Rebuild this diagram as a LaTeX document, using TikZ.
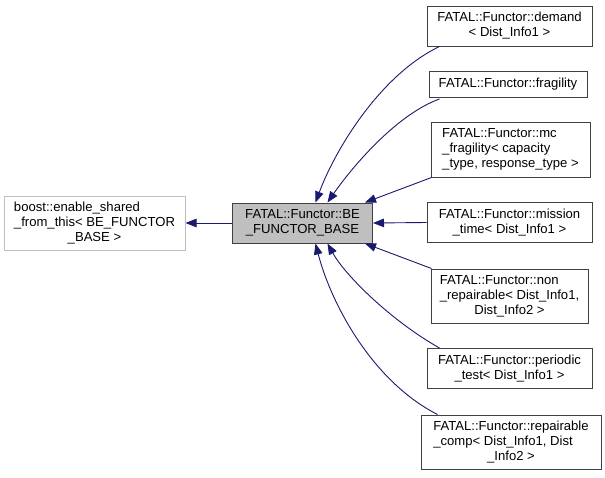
\documentclass[tikz,border=0pt]{standalone}
\usepackage{fontspec}
\setmainfont{Liberation Sans}
\usepackage{tikz}
\usetikzlibrary{arrows.meta}
\definecolor{DoxNavy}{HTML}{191970}
\definecolor{DoxBorder}{HTML}{404040}
\definecolor{DoxGrey}{HTML}{BFBFBF}
\newcommand{\lastline}[1]{\multicolumn{1}{@{}c@{}}{#1}}

\begin{document}
\begin{tikzpicture}[
    x=1pt, y=-1pt,
    cls/.style={draw=DoxBorder, line width=1pt, fill=white, inner sep=0pt, align=center,
                font=\fontsize{13.1}{15}\selectfont},
    basecls/.style={cls, fill=black!25},
    extcls/.style={cls, draw=DoxGrey},
    inh/.style={DoxNavy, line width=0.9pt, -{Triangle[length=11pt, width=8.5pt]}},
]
\useasboundingbox (0,0) rectangle (605,477);

% --- Base class and its parent ---
\node[basecls, minimum width=140pt, minimum height=40pt] at (302.5, 223) (base)
    {\begin{tabular}{@{}l@{}}FATAL::Functor::BE\\\lastline{\_FUNCTOR\_BASE}\end{tabular}};
\node[extcls, minimum width=181pt, minimum height=54pt] at (94.5, 223) (boost)
    {\begin{tabular}{@{}l@{}}boost::enable\_shared\\\_from\_this< BE\_FUNCTOR\\\lastline{\_BASE >}\end{tabular}};

% --- Derived classes (right column) ---
\node[cls, minimum width=165pt, minimum height=40pt] at (509.5, 26) (demand)
    {\begin{tabular}{@{}l@{}}FATAL::Functor::demand\\\lastline{< Dist\_Info1 >}\end{tabular}};
\node[cls, minimum width=158pt, minimum height=26pt] at (508, 84.5) (fragility)
    {FATAL::Functor::fragility};
\node[cls, minimum width=159pt, minimum height=55pt] at (510.5, 149.5) (mcfrag)
    {\begin{tabular}{@{}l@{}}FATAL::Functor::mc\\\_fragility< capacity\\\lastline{\_type, response\_type >}\end{tabular}};
\node[cls, minimum width=165pt, minimum height=40pt] at (509.5, 222.5) (mission)
    {\begin{tabular}{@{}l@{}}FATAL::Functor::mission\\\lastline{\_time< Dist\_Info1 >}\end{tabular}};
\node[cls, minimum width=157pt, minimum height=54pt] at (509.5, 296) (nonrep)
    {\begin{tabular}{@{}l@{}}FATAL::Functor::non\\\_repairable< Dist\_Info1,\\\lastline{Dist\_Info2 >}\end{tabular}};
\node[cls, minimum width=165pt, minimum height=40pt] at (509.5, 368.5) (periodic)
    {\begin{tabular}{@{}l@{}}FATAL::Functor::periodic\\\lastline{\_test< Dist\_Info1 >}\end{tabular}};
\node[cls, minimum width=180pt, minimum height=54pt] at (511, 442) (repcomp)
    {\begin{tabular}{@{}l@{}}FATAL::Functor::repairable\\\_comp< Dist\_Info1, Dist\\\lastline{\_Info2 >}\end{tabular}};

% --- Inheritance arrows ---
\draw[inh] (base.west) -- (boost.east);
\draw[inh] ([xshift=13pt]demand.south west) .. controls (380,75) and (335,150) .. ([xshift=13pt]base.north);
\draw[inh] ([xshift=11pt, yshift=-1pt]fragility.south west) .. controls (395,115) and (350,170) .. ([xshift=25pt]base.north);
\draw[inh] ([xshift=1pt]mcfrag.south west) -- ([xshift=-8pt]base.north east);
\draw[inh] (mission.west) -- (base.east);
\draw[inh] ([xshift=1pt]nonrep.north west) -- ([xshift=-8pt]base.south east);
\draw[inh] ([xshift=13pt]periodic.north west) .. controls (390,320) and (345,275) .. ([xshift=25pt]base.south);
\draw[inh] ([xshift=17pt]repcomp.north west) .. controls (370,380) and (330,300) .. ([xshift=13pt]base.south);

\end{tikzpicture}
\end{document}
